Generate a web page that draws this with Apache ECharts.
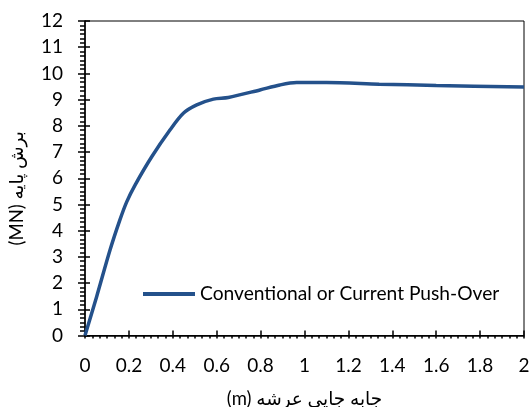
<!DOCTYPE html>
<html>
<head>
<meta charset="utf-8">
<script src="https://cdn.jsdelivr.net/npm/echarts@6/dist/echarts.min.js"></script>
<style>html,body{margin:0;padding:0;background:#fff;}#c{width:529px;height:407px;}</style>
</head>
<body>
<div id="c"></div>
<script>
const seriesName = 'Conventional or Current Push-Over';
const xTitle = '(m) جابه جایی عرشه';
const yTitle = '(MN) برش پایه';
const displacement = [0, 0.053, 0.114, 0.159, 0.19, 0.228, 0.304, 0.387, 0.448, 0.509, 0.585, 0.653, 0.797, 0.888, 0.964, 1.1, 1.34, 1.6, 2.0];
const baseShear   = [0, 1.48, 3.26, 4.41, 5.1, 5.74, 6.82, 7.84, 8.48, 8.8, 9.02, 9.08, 9.37, 9.56, 9.65, 9.65, 9.59, 9.54, 9.48];

const FONT = 'Lato, "DejaVu Sans", sans-serif';
const chart = echarts.init(document.getElementById('c'), null, {renderer: 'canvas'});
chart.setOption({
  animation: false,
  backgroundColor: '#fff',
  grid: {left: 85, right: 5, top: 21, bottom: 71.5, show: true, borderColor: '#000', borderWidth: 1, containLabel: false, outerBoundsMode: 'none'},
  legend: {
    left: 138, top: 279,
    itemWidth: 52, itemHeight: 4, itemGap: 10,
    data: [{name: seriesName, icon: 'rect'}],
    textStyle: {fontFamily: FONT, fontSize: 19.2, color: '#000', lineHeight: 20}
  },
  xAxis: [{
    type: 'value', min: 0, max: 2, interval: 0.2,
    name: xTitle, nameLocation: 'middle', nameGap: 54,
    nameTextStyle: {fontFamily: FONT, fontSize: 18.5, color: '#000'},
    axisLine: {show: true, lineStyle: {color: '#000', width: 1.5}},
    axisTick: {show: true, length: 3, lineStyle: {color: '#000', width: 1.5}},
    minorTick: {show: true, splitNumber: 6, length: 3, lineStyle: {color: '#000', width: 1.5}},
    splitLine: {show: false},
    axisLabel: {margin: 21, fontFamily: FONT, fontSize: 19, color: '#000'}
  }, {
    type: 'value', min: 0, max: 2, interval: 0.2, position: 'bottom',
    axisLine: {show: false},
    axisTick: {show: true, inside: true, length: 5, lineStyle: {color: '#000', width: 1.5}},
    axisLabel: {show: false}, splitLine: {show: false}
  }],
  yAxis: [{
    type: 'value', min: 0, max: 12, interval: 1,
    name: yTitle, nameLocation: 'middle', nameGap: 58,
    nameTextStyle: {fontFamily: FONT, fontSize: 18.5, color: '#000', padding: [0, 20, 0, 0]},
    axisLine: {show: true, lineStyle: {color: '#000', width: 1.5}},
    axisTick: {show: true, length: 7, lineStyle: {color: '#000', width: 1.5}},
    minorTick: {show: true, splitNumber: 6, length: 5, lineStyle: {color: '#000', width: 1.5}},
    splitLine: {show: false},
    axisLabel: {margin: 22, fontFamily: FONT, fontSize: 19, color: '#000'}
  }, {
    type: 'value', min: 0, max: 12, interval: 1, position: 'left',
    axisLine: {show: false},
    axisTick: {show: true, inside: true, length: 5, lineStyle: {color: '#000', width: 1.5}},
    axisLabel: {show: false}, splitLine: {show: false}
  }],
  series: [{
    name: seriesName, type: 'line',
    data: displacement.map((x, i) => [x, baseShear[i]]),
    smooth: 0.3, showSymbol: false, symbol: 'none',
    lineStyle: {color: '#24518b', width: 3.5},
    itemStyle: {color: '#24518b'}
  }]
});
</script>
</body>
</html>
